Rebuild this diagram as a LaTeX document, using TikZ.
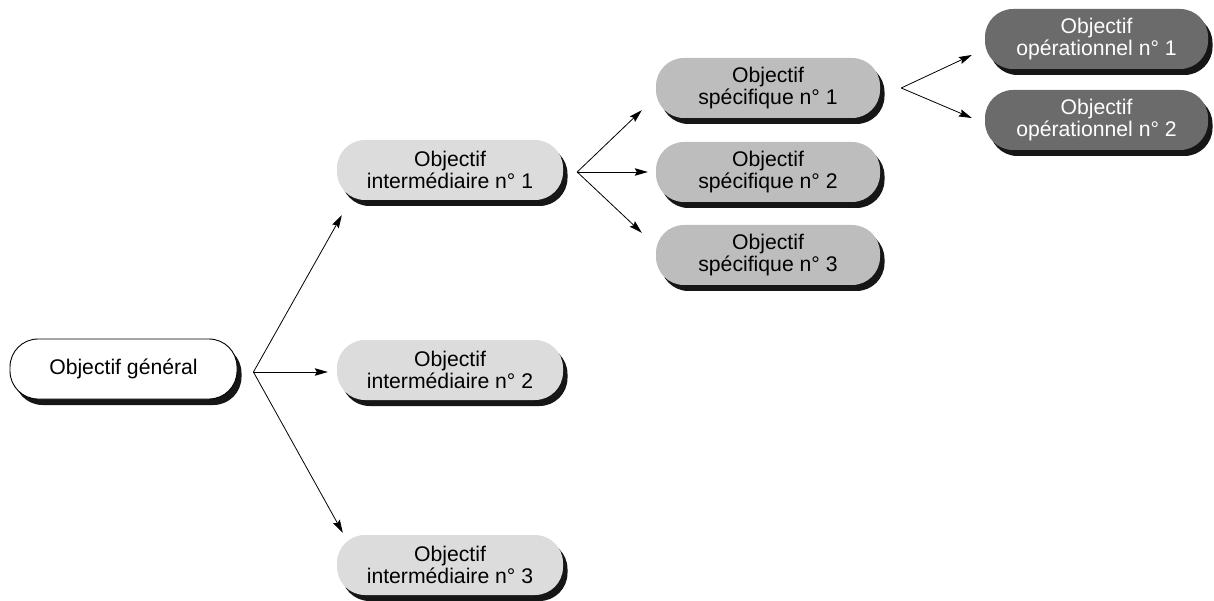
\documentclass[tikz,border=0pt]{standalone}
\usepackage{fontspec}
\setmainfont{Liberation Sans}
\usetikzlibrary{arrows.meta,shadows,calc}
\definecolor{cwhite}{HTML}{FFFFFF}
\definecolor{clight}{HTML}{DCDCDD}
\definecolor{cmid}{HTML}{BDBDBE}
\definecolor{cdark}{HTML}{6B6B6C}
\definecolor{cshadow}{HTML}{161616}
\tikzset{
  objbox/.style={rectangle, rounded corners=28pt, minimum height=60pt,
    inner sep=0pt, align=center,
    font=\fontsize{21.2pt}{22pt}\selectfont,
    general shadow={fill=cshadow, shadow xshift=4.5pt, shadow yshift=-6pt}},
  genbox/.style={objbox, fill=cwhite, draw=black, line width=0.9pt, minimum width=227pt},
  intbox/.style={objbox, fill=clight, minimum width=226pt},
  specbox/.style={objbox, fill=cmid, minimum width=224pt},
  opbox/.style={objbox, fill=cdark, text=white, minimum width=223pt},
  arr/.style={draw=black, line width=0.8pt, -{Stealth[length=13pt,width=7.5pt,inset=2pt]}},
}
\begin{document}
\begin{tikzpicture}[x=1pt,y=-1pt]
\path[use as bounding box] (0,0) rectangle (1214,601);

\node[genbox] (gen) at (123.5,369) {Objectif général};

\node[intbox] (int1) at (450,170) {Objectif\\intermédiaire n° 1};
\node[intbox] (int2) at (450,370) {Objectif\\intermédiaire n° 2};
\node[intbox] (int3) at (450,565) {Objectif\\intermédiaire n° 3};

\node[specbox] (sp1) at (768,88) {Objectif\\spécifique n° 1};
\node[specbox] (sp2) at (768,172) {Objectif\\spécifique n° 2};
\node[specbox] (sp3) at (768,255) {Objectif\\spécifique n° 3};

\node[opbox] (op1) at (1096.5,39) {Objectif\\opérationnel n° 1};
\node[opbox] (op2) at (1096.5,120) {Objectif\\opérationnel n° 2};

\coordinate (bg) at ($(gen.east)+(16,3)$);
\coordinate (bi) at ($(int1.east)+(14,2)$);
\coordinate (bs) at ($(sp1.east)+(21,0)$);

\draw[arr] (bg) -- ($(int1.south west)+(5,15)$);
\draw[arr] (bg) -- ($(int2.west)+(-9,2)$);
\draw[arr] (bg) -- ($(int3.north west)+(6,-2)$);

\draw[arr] (bi) -- ($(sp1.south west)+(-14,-8)$);
\draw[arr] (bi) -- ($(sp2.west)+(-8,0)$);
\draw[arr] (bi) -- ($(sp3.north west)+(-14,8)$);

\draw[arr] (bs) -- ($(op1.west)+(-13,16)$);
\draw[arr] (bs) -- ($(op2.west)+(-13,-2)$);
\end{tikzpicture}
\end{document}
